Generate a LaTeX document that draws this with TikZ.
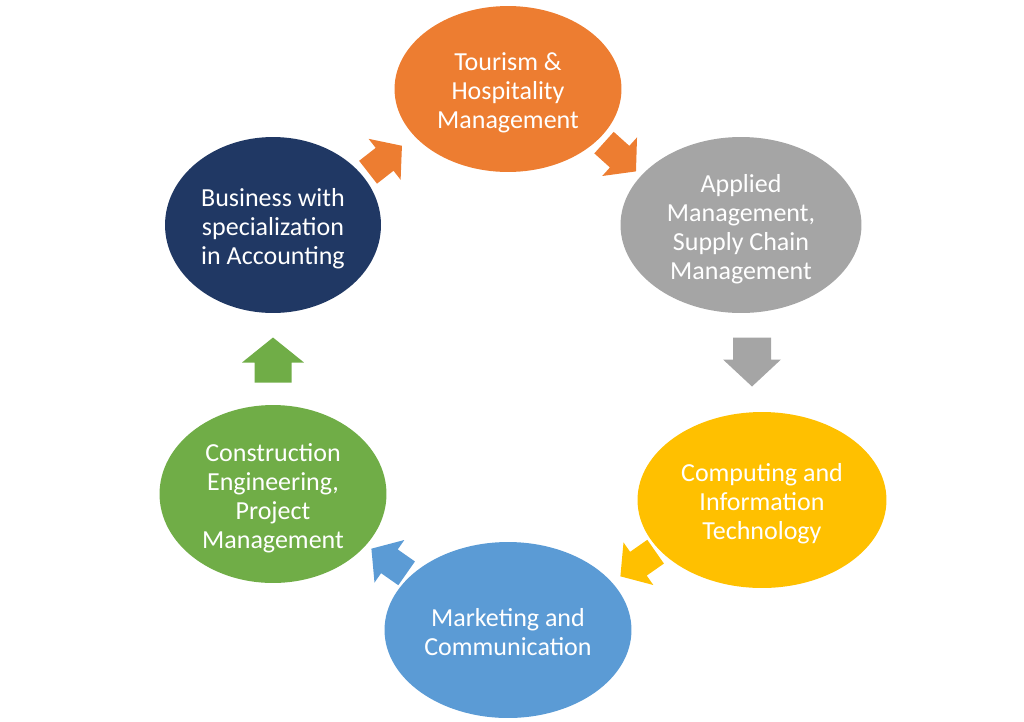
\documentclass[tikz,border=0pt]{standalone}
\usepackage{fontspec}
\setmainfont{Carlito}
\usetikzlibrary{shapes.geometric}
\definecolor{corange}{HTML}{ED7D31}
\definecolor{cgray}{HTML}{A5A5A5}
\definecolor{cyellow}{HTML}{FFC000}
\definecolor{cblue}{HTML}{5B9BD5}
\definecolor{cgreen}{HTML}{70AD47}
\definecolor{cnavy}{HTML}{203864}
\tikzset{
  bubble/.style={ellipse, draw=none, text=white, align=center, inner sep=0pt,
    font=\fontsize{14.8}{16.5}\selectfont},
}
\newcommand\btext[1]{\raisebox{-2.8pt}[\height][\depth]{\begin{tabular}{@{}c@{}}#1\end{tabular}}}
% \blockarr{colour}{centre}{angle}{length}{shaft}{head width}{head length}  (lengths in cm)
\newcommand\blockarr[7]{%
  \begin{scope}[shift={#2}, rotate=#3]
    \fill[#1] (-#4/2,-#5/2) -- (#4/2-#7,-#5/2) -- (#4/2-#7,-#6/2) -- (#4/2,0)
      -- (#4/2-#7,#6/2) -- (#4/2-#7,#5/2) -- (-#4/2,#5/2) -- cycle;
  \end{scope}}
\begin{document}
\begin{tikzpicture}[x=0.02cm,y=-0.02cm]
\useasboundingbox (0,0) rectangle (1024,721);
\node[bubble, fill=corange, minimum width=4.54cm, minimum height=3.32cm] (tour) at (508,89) {\btext{Tourism \&\\Hospitality\\Management}};
\node[bubble, fill=cgray, minimum width=4.82cm, minimum height=3.52cm] (appl) at (741,225) {\btext{Applied\\Management,\\Supply Chain\\Management}};
\node[bubble, fill=cyellow, minimum width=4.98cm, minimum height=3.52cm] (comp) at (762,500) {\btext{Computing and\\Information\\Technology}};
\node[bubble, fill=cblue, minimum width=4.94cm, minimum height=3.52cm] (mark) at (508,630) {\btext{Marketing and\\Communication}};
\node[bubble, fill=cgreen, minimum width=4.54cm, minimum height=3.56cm] (cons) at (273,494) {\btext{Construction\\Engineering,\\Project\\Management}};
\node[bubble, fill=cnavy, minimum width=4.32cm, minimum height=3.52cm] (busi) at (273,225) {\btext{Business with\\specialization\\in Accounting}};
% block arrows between the bubbles
\blockarr{corange}{(385,159)}{38}{0.86cm}{0.58cm}{1.04cm}{0.44cm}
\blockarr{corange}{(620,157)}{-42}{0.86cm}{0.58cm}{1.04cm}{0.44cm}
\blockarr{cgray}{(752,362)}{-90}{0.98cm}{0.76cm}{1.16cm}{0.54cm}
\blockarr{cyellow}{(638,564)}{-145}{0.86cm}{0.58cm}{1.04cm}{0.44cm}
\blockarr{cblue}{(389,561)}{145}{0.86cm}{0.58cm}{1.04cm}{0.44cm}
\blockarr{cgreen}{(273,360)}{90}{0.9cm}{0.74cm}{1.24cm}{0.5cm}
\end{tikzpicture}
\end{document}
